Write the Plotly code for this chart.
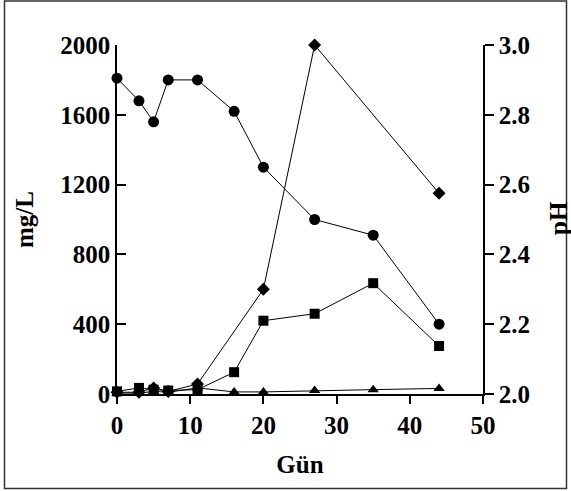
import plotly.graph_objects as go

days = [0, 3, 5, 7, 11, 16, 20, 27, 35, 44]
ph_circle = [2.905, 2.84, 2.78, 2.90, 2.90, 2.81, 2.65, 2.50, 2.455, 2.20]
sq_vals = [15, 35, 25, 20, 25, 125, 420, 460, 635, 275]
tri_vals = [5, 5, 15, 10, 35, 12, 12, 20, 25, 32]
dia_days = [0, 3, 5, 7, 11, 20, 27, 44]
dia_vals = [10, 10, 35, 15, 57, 600, 2000, 1150]

W, H = 571, 491
L, R, T, B = 117, 483, 45, 394

FONT = "Liberation Serif, Times New Roman, serif"
line = dict(color="black", width=1)

fig = go.Figure()
fig.add_trace(go.Scatter(x=days, y=tri_vals, mode="lines+markers", line=line,
                         marker=dict(symbol="triangle-up", size=10, color="black"),
                         cliponaxis=False, showlegend=False, hoverinfo="skip"))
fig.add_trace(go.Scatter(x=dia_days, y=dia_vals, mode="lines+markers", line=line,
                         marker=dict(symbol="diamond", size=10, color="black"),
                         cliponaxis=False, showlegend=False, hoverinfo="skip"))
fig.add_trace(go.Scatter(x=days, y=sq_vals, mode="lines+markers", line=line,
                         marker=dict(symbol="square", size=10, color="black"),
                         cliponaxis=False, showlegend=False, hoverinfo="skip"))
fig.add_trace(go.Scatter(x=days, y=ph_circle, mode="lines+markers", line=line,
                         marker=dict(symbol="circle", size=11, color="black"),
                         yaxis="y2", cliponaxis=False, showlegend=False, hoverinfo="skip"))

tf = dict(family=FONT, size=25, color="black", weight="bold")
axf = dict(family=FONT, size=25, color="black", weight="bold")

fig.update_layout(
    template="none",
    width=W, height=H,
    margin=dict(l=L, r=W - R, t=T, b=H - B, pad=0),
    paper_bgcolor="white", plot_bgcolor="white",
    hovermode=False,
    modebar=dict(bgcolor="rgba(0,0,0,0)", color="rgba(0,0,0,0)",
                 activecolor="rgba(0,0,0,0)"),
    xaxis=dict(range=[0, 50], dtick=10, showgrid=False, zeroline=False, automargin=False,
               showline=True, linecolor="black", linewidth=1.5,
               ticks="outside", ticklen=8, tickwidth=1.5, tickcolor="black",
               tickfont=tf, title=dict(text="Gün", font=axf, standoff=18)),
    yaxis=dict(range=[0, 2000], dtick=400, showgrid=False, zeroline=False, automargin=False,
               showline=True, linecolor="black", linewidth=1.5,
               ticks="inside", ticklen=9, tickwidth=1.5, tickcolor="black",
               tickfont=tf, title=dict(text="mg/L", font=axf, standoff=20)),
    yaxis2=dict(range=[2, 3], dtick=0.2, tickformat=".1f", overlaying="y", side="right",
                showgrid=False, zeroline=False, automargin=False,
                showline=True, linecolor="black", linewidth=1.5,
                ticks="outside", ticklen=9, tickwidth=1.5, tickcolor="black",
                tickfont=tf),
    yaxis3=dict(range=[2, 3], dtick=0.2, overlaying="y", side="right",
                showgrid=False, zeroline=False, showline=False, automargin=False,
                ticks="inside", ticklen=9, tickwidth=1.5, tickcolor="black",
                showticklabels=False),
)

pw, ph = R - L, B - T
def px(xp): return (xp - L) / pw
def py(yp): return (B - yp) / ph

fig.add_annotation(text="pH", xref="paper", yref="paper", x=px(558), y=py(218),
                   textangle=-90, showarrow=False, font=axf,
                   xanchor="center", yanchor="middle")

fig.add_shape(type="rect", xref="paper", yref="paper",
              x0=px(4.5), x1=px(566.5), y0=py(488.5), y1=py(1),
              line=dict(color="#333333", width=1.5), fillcolor="rgba(0,0,0,0)")

fig.write_html("out.html",
               post_script=("document.body.style.margin='0';"
                            "document.body.style.overflow='hidden';"
                            "var s=document.createElement('style');"
                            "s.innerHTML='.modebar{display:none !important;}';"
                            "document.head.appendChild(s);"))
